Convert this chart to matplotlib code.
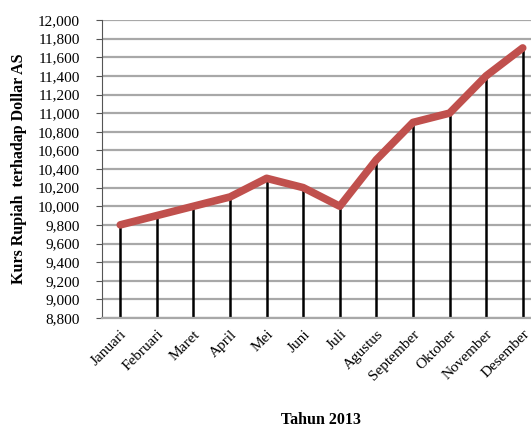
import numpy as np
import matplotlib.pyplot as plt

# Kurs Rupiah terhadap Dollar AS, 2013
bulan = ["Januari", "Februari", "Maret", "April", "Mei", "Juni", "Juli",
         "Agustus", "September", "Oktober", "November", "Desember"]
kurs = [9800, 9900, 10000, 10100, 10300, 10200, 10000,
        10500, 10900, 11000, 11400, 11700]
y_ticks = list(range(8800, 12001, 200))

plt.rcParams['font.family'] = ['Liberation Serif', 'DejaVu Serif']

fig = plt.figure(figsize=(5.31, 4.28), dpi=100)
ax = fig.add_axes([102/531, 110/428, 439/531, 298/428])

x = np.arange(len(bulan))
ax.vlines(x, 8800, kurs, color='black', lw=1.8, zorder=2)
ax.plot(x, kurs, color='#c0504d', lw=5.5, solid_capstyle='round',
        solid_joinstyle='round', zorder=3)

ax.set_ylim(8800, 12000)
ax.set_xlim(-0.5, len(bulan) - 0.5)
ax.set_yticks(y_ticks)
ax.set_yticklabels([f"{v:,}" for v in y_ticks], fontsize=11)
ax.set_xticks(x)
ax.set_xticklabels(bulan, rotation=45, ha='right', rotation_mode='anchor', fontsize=11)
ax.tick_params(axis='x', length=0, pad=7)
ax.tick_params(axis='y', length=4, color='#555555', pad=12)

ax.grid(axis='y', color='#a8a8a8', lw=1.6, zorder=1)
ax.set_axisbelow(True)
for s in ['top', 'right']:
    ax.spines[s].set_visible(False)
ax.spines['left'].set_color('#555555')
ax.spines['bottom'].set_color('#a8a8a8')
ax.spines['bottom'].set_linewidth(1.6)

ax.set_ylabel("Kurs Rupiah  terhadap Dollar AS", fontsize=11.5, fontweight='bold', labelpad=8)
fig.text(321/531, 0.0, "Tahun 2013", fontsize=11.5, fontweight='bold', ha='center', va='bottom')

fig.savefig("out.png", dpi=100)
